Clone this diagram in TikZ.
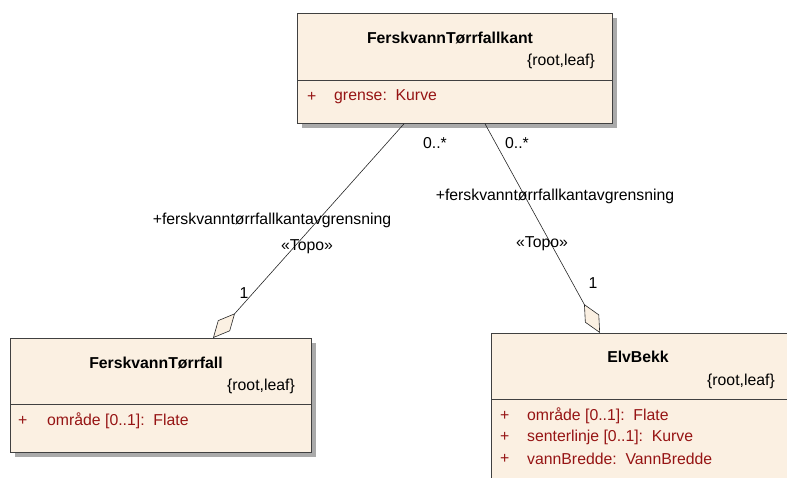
\documentclass[tikz,border=0pt]{standalone}
\usepackage{fontspec}
\setmainfont{Liberation Sans}
\usetikzlibrary{arrows.meta,shadows,calc}
\definecolor{classfill}{RGB}{251,240,226}
\definecolor{attrred}{RGB}{150,20,20}
\definecolor{borderc}{RGB}{64,64,64}
\definecolor{shadowc}{RGB}{170,170,170}
\begin{document}
\begin{tikzpicture}[x=1pt,y=-1pt,
  font=\fontsize{15.8}{18}\selectfont,
  classbox/.style={draw=borderc, fill=classfill, line width=0.8pt, anchor=north west, inner sep=0pt,
    drop shadow={shadow xshift=5pt, shadow yshift=-5pt, shadow scale=1, fill=shadowc, opacity=1}},
  sepline/.style={draw=borderc, line width=0.8pt},
  titletext/.style={font=\fontsize{15.8}{18}\selectfont\bfseries, inner sep=0pt, anchor=center},
  tagtext/.style={inner sep=0pt, anchor=east},
  attrtext/.style={inner sep=0pt, anchor=west, text=attrred},
  lbl/.style={inner sep=0pt, anchor=center},
  assoc/.style={draw=black!85, line width=0.6pt,
    -{Diamond[length=33pt,width=16pt,fill=classfill,line width=0.6pt]}}
]
\useasboundingbox (0,0) rectangle (787,477);
\clip (0,0) rectangle (787,477);

% boxes
\node[classbox, minimum width=315pt, minimum height=110pt] (kant) at (297,13) {};
\node[classbox, minimum width=301pt, minimum height=114pt] (fall) at (10,338) {};
\node[classbox, minimum width=302pt, minimum height=170pt] (elv) at (491,333) {};

% separators
\draw[sepline] (kant.west |- 0,80) -- (kant.east |- 0,80);
\draw[sepline] (fall.west |- 0,404) -- (fall.east |- 0,404);
\draw[sepline] (elv.west |- 0,399) -- (elv.east |- 0,399);

% FerskvannTørrfallkant
\node[titletext] (kantT) at (450,38) {FerskvannTørrfallkant};
\node[tagtext] (kantG) at (595,61) {\{root,leaf\}};
\node[attrtext] (kantP) at (307,97) {+};
\node[attrtext] (kantA) at (334,97) {grense:\ \ Kurve};

% FerskvannTørrfall
\node[titletext] (fallT) at (156,363) {FerskvannTørrfall};
\node[tagtext] (fallG) at (295,386) {\{root,leaf\}};
\node[attrtext] (fallP) at (18,421) {+};
\node[attrtext] (fallA) at (47,421) {område [0..1]:\ \ Flate};

% ElvBekk
\node[titletext] (elvT) at (638,357) {ElvBekk};
\node[tagtext] (elvG) at (775,381) {\{root,leaf\}};
\node[attrtext] (elvP1) at (500,416) {+};
\node[attrtext] (elvA1) at (527,416) {område [0..1]:\ \ Flate};
\node[attrtext] (elvP2) at (500,437) {+};
\node[attrtext] (elvA2) at (527,437) {senterlinje [0..1]:\ \ Kurve};
\node[attrtext] (elvP3) at (500,459) {+};
\node[attrtext] (elvA3) at (527,459) {vannBredde:\ \ VannBredde};

% connectors
\coordinate (kantL) at ($(kant.south west)+(107,0)$);
\coordinate (kantR) at ($(kant.south west)+(188,0)$);
\coordinate (fallTop) at ($(fall.north west)+(203,0)$);
\coordinate (elvTop) at ($(elv.north west)+(109,0)$);
\draw[assoc] (kantL) -- (fallTop);
\draw[assoc] (kantR) -- (elvTop);

% labels left association
\node[lbl] (l1) at (435,143) {0..*};
\node[lbl] (l2) at (272,220) {+ferskvanntørrfallkantavgrensning};
\node[lbl] (l3) at (307,247) {«Topo»};
\node[lbl] (l4) at (244,293) {1};

% labels right association
\node[lbl] (r1) at (517,143) {0..*};
\node[lbl] (r2) at (555,196) {+ferskvanntørrfallkantavgrensning};
\node[lbl] (r3) at (542,244) {«Topo»};
\node[lbl] (r4) at (593,283) {1};
\end{tikzpicture}
\end{document}
